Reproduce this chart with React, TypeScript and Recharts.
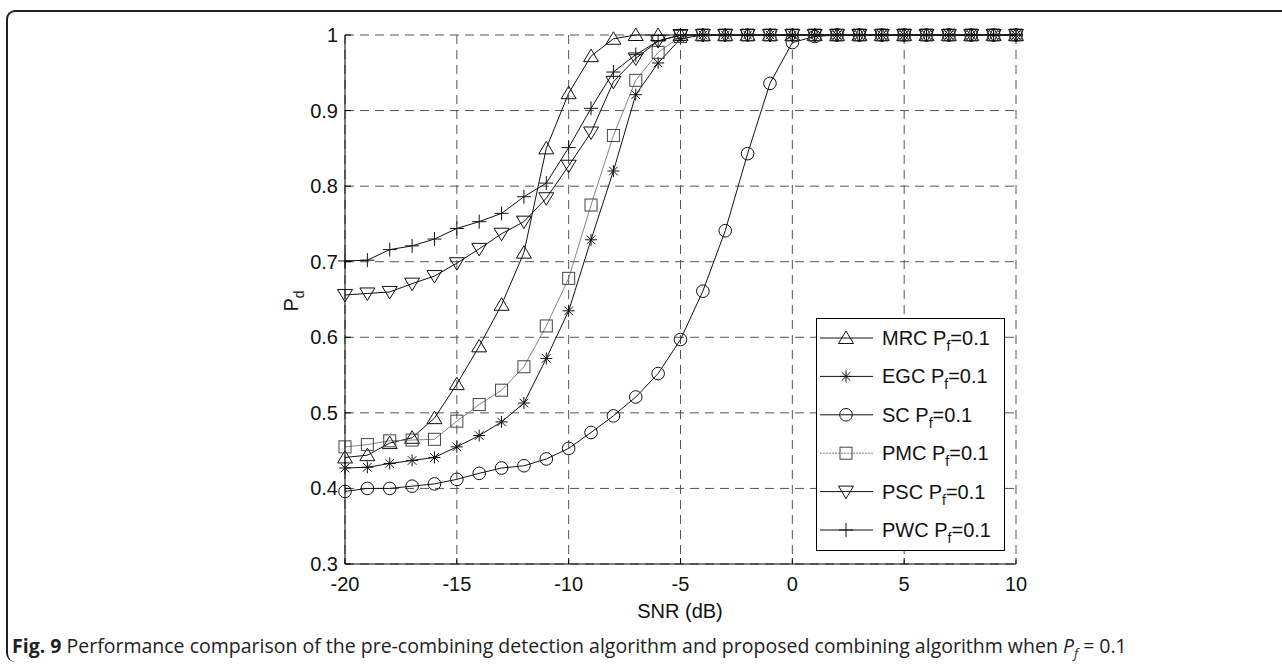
import React from 'react';
import { LineChart, Line, XAxis, YAxis, CartesianGrid, Legend } from 'recharts';

const snr = [-20, -19, -18, -17, -16, -15, -14, -13, -12, -11, -10, -9, -8, -7, -6, -5, -4, -3, -2, -1, 0, 1, 2, 3, 4, 5, 6, 7, 8, 9, 10];

const mrc = [0.441, 0.444, 0.46, 0.467, 0.493, 0.538, 0.588, 0.643, 0.712, 0.85, 0.923, 0.972, 0.995, 1, 1, 1, 1, 1, 1, 1, 1, 1, 1, 1, 1, 1, 1, 1, 1, 1, 1];
const egc = [0.427, 0.428, 0.433, 0.437, 0.441, 0.455, 0.47, 0.488, 0.513, 0.572, 0.635, 0.729, 0.82, 0.921, 0.963, 0.995, 1, 1, 1, 1, 1, 1, 1, 1, 1, 1, 1, 1, 1, 1, 1];
const sc = [0.396, 0.4, 0.4, 0.403, 0.406, 0.412, 0.42, 0.427, 0.43, 0.439, 0.453, 0.474, 0.496, 0.521, 0.552, 0.597, 0.661, 0.741, 0.843, 0.936, 0.99, 0.998, 1, 1, 1, 1, 1, 1, 1, 1, 1];
const pmc = [0.455, 0.458, 0.463, 0.464, 0.465, 0.489, 0.511, 0.53, 0.561, 0.615, 0.678, 0.775, 0.867, 0.94, 0.977, 0.998, 1, 1, 1, 1, 1, 1, 1, 1, 1, 1, 1, 1, 1, 1, 1];
const psc = [0.656, 0.658, 0.66, 0.671, 0.681, 0.698, 0.717, 0.737, 0.753, 0.784, 0.827, 0.871, 0.938, 0.969, 0.992, 1, 1, 1, 1, 1, 1, 1, 1, 1, 1, 1, 1, 1, 1, 1, 1];
const pwc = [0.701, 0.702, 0.716, 0.721, 0.73, 0.744, 0.753, 0.764, 0.786, 0.804, 0.851, 0.903, 0.951, 0.974, 0.992, 1, 1, 1, 1, 1, 1, 1, 1, 1, 1, 1, 1, 1, 1, 1, 1];

const xTicks = [-20, -15, -10, -5, 0, 5, 10];
const yTicks = [0.3, 0.4, 0.5, 0.6, 0.7, 0.8, 0.9, 1];

const seriesNames = ['MRC', 'EGC', 'SC', 'PMC', 'PSC', 'PWC'];
const seriesMarkers = ['triUp', 'star', 'circle', 'square', 'triDown', 'plus'];

const data = snr.map((s, i) => ({
  snr: s,
  MRC: mrc[i],
  EGC: egc[i],
  SC: sc[i],
  PMC: pmc[i],
  PSC: psc[i],
  PWC: pwc[i],
}));

const FONT = '"Liberation Sans", Arial, Helvetica, sans-serif';
const FS = 20;

function Marker({ kind, cx, cy, stroke }: { kind: string; cx: number; cy: number; stroke: string }) {
  const common = { fill: 'none', stroke, strokeWidth: 1 } as const;
  if (cx == null || cy == null || isNaN(cx) || isNaN(cy)) return null;
  switch (kind) {
    case 'triUp':
      return <polygon {...common} points={`${cx},${cy - 7} ${cx - 7.5},${cy + 5.5} ${cx + 7.5},${cy + 5.5}`} />;
    case 'triDown':
      return <polygon {...common} points={`${cx - 7.5},${cy - 5.5} ${cx + 7.5},${cy - 5.5} ${cx},${cy + 7}`} />;
    case 'circle':
      return <circle {...common} cx={cx} cy={cy} r={6.3} />;
    case 'square':
      return <rect {...common} x={cx - 6} y={cy - 6} width={12} height={12} />;
    case 'plus':
      return (
        <g {...common}>
          <line x1={cx - 7} x2={cx + 7} y1={cy} y2={cy} />
          <line x1={cx} x2={cx} y1={cy - 7} y2={cy + 7} />
        </g>
      );
    case 'star':
      return (
        <g {...common}>
          <line x1={cx - 6} x2={cx + 6} y1={cy} y2={cy} />
          <line x1={cx} x2={cx} y1={cy - 6} y2={cy + 6} />
          <line x1={cx - 4.3} x2={cx + 4.3} y1={cy - 4.3} y2={cy + 4.3} />
          <line x1={cx - 4.3} x2={cx + 4.3} y1={cy + 4.3} y2={cy - 4.3} />
        </g>
      );
    default:
      return null;
  }
}

const makeDot = (kind: string, stroke: string) => (props: any) => (
  <Marker key={`${kind}-${props.index}`} kind={kind} cx={props.cx} cy={props.cy} stroke={stroke} />
);

const XTickBottom = (props: any) => {
  const { x, y, payload } = props;
  return (
    <g>
      <line x1={x} x2={x} y1={y} y2={y - 6} stroke="#000" />
      <text x={x} y={y + 27} textAnchor="middle" fontFamily={FONT} fontSize={FS} fill="#111">
        {String(payload.value)}
      </text>
    </g>
  );
};

const XTickTop = (props: any) => {
  const { x, y } = props;
  return <line x1={x} x2={x} y1={y} y2={y + 6} stroke="#000" />;
};

const YTickLeft = (props: any) => {
  const { x, y, payload } = props;
  const v = payload.value as number;
  const label = v === 1 ? '1' : v.toFixed(1);
  return (
    <g>
      <line x1={x} x2={x + 6} y1={y} y2={y} stroke="#000" />
      <text x={x - 7} y={y + 7} textAnchor="end" fontFamily={FONT} fontSize={FS} fill="#111">
        {label}
      </text>
    </g>
  );
};

const YTickRight = (props: any) => {
  const { x, y } = props;
  return <line x1={x} x2={x - 6} y1={y} y2={y} stroke="#000" />;
};

const seriesStyle = (name: string) =>
  name === 'PMC'
    ? { line: '#777', width: 0.9, marker: '#444' }
    : { line: '#111', width: 1, marker: '#111' };

const LEG_W = 189;
const LEG_H = 233;

const LegendBox = () => {
  return (
    <svg width={LEG_W} height={LEG_H} style={{ display: 'block' }}>
      <rect x={0.5} y={0.5} width={LEG_W - 1} height={LEG_H - 1} fill="#fff" stroke="#000" />
      {seriesNames.map((n, i) => {
        const cy = 20 + i * 38.4;
        const st = seriesStyle(n);
        return (
          <g key={n}>
            <line
              x1={4}
              x2={57}
              y1={cy}
              y2={cy}
              stroke={st.line}
              strokeWidth={st.width}
              strokeDasharray={n === 'PMC' ? '2 1' : undefined}
            />
            <Marker kind={seriesMarkers[i]} cx={30} cy={cy} stroke={st.marker} />
            <text x={66} y={cy + 7} fontFamily={FONT} fontSize={FS} fill="#111">
              {n} P
              <tspan fontSize={14} dy={6}>f</tspan>
              <tspan dy={-6}>=0.1</tspan>
            </text>
          </g>
        );
      })}
    </svg>
  );
};

const YLabel = () => {
  const x = 298;
  const y = 301;
  return (
    <text transform={`translate(${x},${y}) rotate(-90)`} textAnchor="middle" fontFamily={FONT} fontSize={FS} fill="#111">
      P
      <tspan fontSize={14} dy={6}>d</tspan>
    </text>
  );
};

const XLabel = () => (
  <text x={680} y={618} textAnchor="middle" fontFamily={FONT} fontSize={FS} fill="#111">
    SNR (dB)
  </text>
);

export default function App() {
  return (
    <div
      style={{
        position: 'fixed',
        left: 0,
        top: 0,
        width: 1282,
        height: 668,
        overflow: 'hidden',
        background: '#fff',
      }}
    >
      <div
        style={{
          position: 'absolute',
          left: 6,
          top: 10,
          width: 1300,
          height: 652,
          borderLeft: '2px solid #222',
          borderTop: '2px solid #222',
          borderTopLeftRadius: 9,
          borderBottomLeftRadius: 9,
          boxSizing: 'border-box',
        }}
      />
      <div style={{ position: 'absolute', left: 0, top: 0 }}>
        <LineChart
          width={1282}
          height={668}
          data={data}
          margin={{ top: 35, right: 266, bottom: 74, left: 285 }}
        >
          <CartesianGrid stroke="#555" strokeDasharray="9 6" strokeWidth={1} />
          <XAxis
            dataKey="snr"
            type="number"
            domain={[-20, 10]}
            ticks={xTicks}
            interval={0}
            height={30}
            tickSize={0}
            tickMargin={0}
            axisLine={{ stroke: '#000' }}
            tickLine={false}
            tick={<XTickBottom />}
            label={<XLabel />}
          />
          <XAxis
            xAxisId="top"
            orientation="top"
            dataKey="snr"
            type="number"
            domain={[-20, 10]}
            ticks={xTicks}
            interval={0}
            height={0}
            tickSize={0}
            tickMargin={0}
            axisLine={{ stroke: '#000' }}
            tickLine={false}
            tick={<XTickTop />}
          />
          <YAxis
            type="number"
            domain={[0.3, 1]}
            ticks={yTicks}
            interval={0}
            width={60}
            tickSize={0}
            tickMargin={0}
            axisLine={{ stroke: '#000' }}
            tickLine={false}
            tick={<YTickLeft />}
            label={<YLabel />}
          />
          <YAxis
            yAxisId="right"
            orientation="right"
            type="number"
            domain={[0.3, 1]}
            ticks={yTicks}
            interval={0}
            width={0}
            tickSize={0}
            tickMargin={0}
            axisLine={{ stroke: '#000' }}
            tickLine={false}
            tick={<YTickRight />}
          />
          <Legend
            layout="horizontal"
            verticalAlign="middle"
            align="center"
            content={<LegendBox />}
            wrapperStyle={{ position: 'absolute', left: 816, top: 318, width: LEG_W, height: LEG_H }}
          />
          {seriesNames.map((n, i) => {
            const st = seriesStyle(n);
            return (
              <Line
                key={n}
                type="linear"
                dataKey={n}
                stroke={st.line}
                strokeWidth={st.width}
                dot={makeDot(seriesMarkers[i], st.marker)}
                activeDot={false}
                isAnimationActive={false}
                legendType="none"
              />
            );
          })}
        </LineChart>
      </div>
      <div
        style={{
          position: 'absolute',
          left: 12,
          top: 632,
          fontFamily: '"Open Sans", "Noto Sans", sans-serif',
          fontSize: 19.5,
          color: '#222',
          whiteSpace: 'nowrap',
        }}
      >
        <b>Fig. 9</b> Performance comparison of the pre-combining detection algorithm and proposed combining algorithm when{' '}
        <i>P</i>
        <sub style={{ fontSize: 13 }}>
          <i>f</i>
        </sub>{' '}
        = 0.1
      </div>
    </div>
  );
}
